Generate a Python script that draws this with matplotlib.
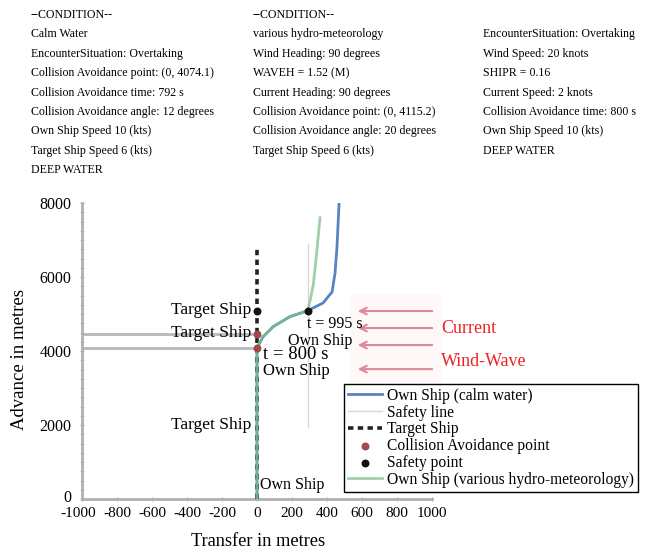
import matplotlib
matplotlib.use('Agg')
import matplotlib.pyplot as plt
import matplotlib.transforms as mtransforms
from matplotlib.patches import Rectangle

plt.rcParams['font.family'] = ['Liberation Serif', 'DejaVu Serif']

# condition text blocks
calm_lines = ['--CONDITION--', 'Calm Water', 'EncounterSituation: Overtaking',
              'Collision Avoidance point: (0, 4074.1)', 'Collision Avoidance time: 792 s',
              'Collision Avoidance angle: 12 degrees', 'Own Ship Speed 10 (kts)',
              'Target Ship Speed 6 (kts)', 'DEEP WATER']
hydro_lines = ['--CONDITION--', 'various hydro-meteorology', 'Wind Heading: 90 degrees',
               'WAVEH = 1.52 (M)', 'Current Heading: 90 degrees',
               'Collision Avoidance point: (0, 4115.2)', 'Collision Avoidance angle: 20 degrees',
               'Target Ship Speed 6 (kts)']
hydro_lines2 = ['EncounterSituation: Overtaking', 'Wind Speed: 20 knots', 'SHIPR = 0.16',
                'Current Speed: 2 knots', 'Collision Avoidance time: 800 s',
                'Own Ship Speed 10 (kts)', 'DEEP WATER']

# trajectories (transfer x, advance y) in metres
calm_x = [0, 0, 0, 34, 93, 189, 290, 377, 429, 446, 457, 469]
calm_y = [0, 2000, 4074, 4380, 4660, 4930, 5090, 5297, 5595, 6108, 6811, 8000]
hydro_x = [0, 0, 0, 34, 93, 189, 290, 305, 322, 340, 360]
hydro_y = [0, 2000, 4115, 4380, 4660, 4930, 5090, 5400, 5800, 6600, 7600]
target_x = [0, 0]
target_y = [0, 6850]
safety_x = [290, 290]
safety_y = [1950, 6900]
ca_x = [0, 0]
ca_y = [4470, 4074]
ca_lines_y = [4470, 4074]
safe_pt_x = [0, 290]
safe_pt_y = [5090, 5090]
arrow_y = [5080, 4620, 4160, 3510]
x_ticks = list(range(-1000, 1001, 200))
x_labels = ['-1000', '-800', '-600', '-400', '-200', '0', '200', '400', '600', '800', '1000']
y_ticks = [0, 2000, 4000, 6000, 8000]

fig = plt.figure(figsize=(6.59, 5.54), dpi=100)

# header text
x_cols = [31 / 659, 253 / 659, 483 / 659]
row0 = 1 - 15 / 554
dy = 19.4 / 554
for i, t in enumerate(calm_lines):
    fig.text(x_cols[0], row0 - i * dy, t, fontsize=8.6, va='center', ha='left')
for i, t in enumerate(hydro_lines):
    fig.text(x_cols[1], row0 - i * dy, t, fontsize=8.6, va='center', ha='left')
for i, t in enumerate(hydro_lines2):
    fig.text(x_cols[2], row0 - (i + 1) * dy, t, fontsize=8.6, va='center', ha='left')

ax = fig.add_axes([82 / 659, 1 - 499 / 554, 350 / 659, 296 / 554])
ax.set_xlim(-1000, 1000)
ax.set_ylim(0, 8000)
ax.set_facecolor('white')

# faint backdrop behind the arrows
ax.add_patch(Rectangle((530, 3100), 520, 2450, facecolor='#fff8f9', edgecolor='none',
                       zorder=0, clip_on=False))

for yv in ca_lines_y:
    ax.plot([-1000, 0], [yv, yv], color='#b8b8b8', lw=2, zorder=1, solid_capstyle='butt')

ax.plot(safety_x, safety_y, color='#d8d8d8', lw=1, zorder=2, label='Safety line')
ax.plot(target_x, target_y, color='#222222', lw=2.6, ls=(0, (1.5, 1.2)), zorder=3,
        label='Target Ship')
ax.plot(calm_x, calm_y, color='#3a6db5', lw=2, zorder=4, alpha=0.85,
        label='Own Ship (calm water)')
ax.plot(hydro_x, hydro_y, color='#7fc28a', lw=2, zorder=5, alpha=0.75,
        label='Own Ship (various hydro-meteorology)')
ax.scatter(ca_x, ca_y, s=22, color='#a04a4a', zorder=6, label='Collision Avoidance point')
ax.scatter(safe_pt_x, safe_pt_y, s=22, color='#111111', zorder=7, label='Safety point')

for yv in arrow_y:
    ax.annotate('', xy=(560, yv), xytext=(1017, yv), annotation_clip=False,
                arrowprops=dict(arrowstyle='->', color='#d98a96', lw=1.5,
                                mutation_scale=12))
ax.text(1050, 4600, 'Current', color='#ee2222', fontsize=13, va='center', ha='left',
        clip_on=False)
ax.text(1050, 3720, 'Wind-Wave', color='#ee2222', fontsize=13, va='center', ha='left',
        clip_on=False)

# annotations
for yv in [5100, 4480, 1990]:
    ax.text(-35, yv, 'Target Ship', fontsize=12.5, ha='right', va='center')
ax.text(283, 4720, 't = 995 s', fontsize=11.5, ha='left', va='center')
ax.text(177, 4280, 'Own Ship', fontsize=11.5, ha='left', va='center')
ax.text(35, 3900, 't = 800 s', fontsize=13.5, ha='left', va='center')
ax.text(35, 3470, 'Own Ship', fontsize=12, ha='left', va='center')
ax.text(20, 380, 'Own Ship', fontsize=11.5, ha='left', va='center')

for s in ['top', 'right']:
    ax.spines[s].set_visible(False)
for s in ['left', 'bottom']:
    ax.spines[s].set_color('#b0b0b0')
    ax.spines[s].set_linewidth(2)
ax.set_xticks(x_ticks)
ax.set_xticklabels(x_labels)
ax.set_yticks(y_ticks)
ax.set_yticks(range(0, 8001, 250), minor=True)
ax.tick_params(axis='both', labelsize=11, colors='#b0b0b0', labelcolor='black',
               length=3, width=1, direction='inout')
ax.tick_params(axis='y', labelsize=11.5)
ax.tick_params(axis='y', which='minor', length=3, color='#b0b0b0', direction='inout')
ax.tick_params(axis='y', pad=6)
ax.tick_params(axis='x', pad=4.5)

# nudge the crowded first x label left a touch, and the y "0" up a touch
first = ax.get_xticklabels()[0]
first.set_transform(first.get_transform() +
                    mtransforms.ScaledTranslation(-3 / 72, 0, fig.dpi_scale_trans))
zero = ax.get_yticklabels()[0]
zero.set_transform(zero.get_transform() +
                   mtransforms.ScaledTranslation(0, 2 / 72, fig.dpi_scale_trans))

fig.text(20 / 659, 1 - 360 / 554, 'Advance in metres', fontsize=13.5, rotation=90,
         ha='center', va='center')
fig.text(258 / 659, 1 - 542 / 554, 'Transfer in metres', fontsize=13.2,
         ha='center', va='center')

handles, labels = ax.get_legend_handles_labels()
order = ['Own Ship (calm water)', 'Safety line', 'Target Ship', 'Collision Avoidance point',
         'Safety point', 'Own Ship (various hydro-meteorology)']
hl = dict(zip(labels, handles))
leg = fig.legend([hl[k] for k in order], order, loc='upper left',
                 bbox_to_anchor=(344 / 659, 1 - 384 / 554), fontsize=11.2,
                 frameon=True, fancybox=False, edgecolor='black', framealpha=1,
                 labelspacing=0.05, handlelength=2.2, handletextpad=0.3,
                 borderpad=0.25, borderaxespad=0)
leg.get_frame().set_linewidth(1)

fig.savefig('out.png', dpi=100)
